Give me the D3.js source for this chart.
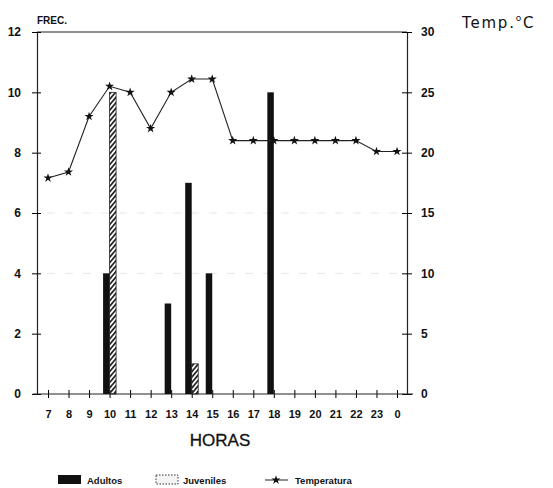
<!DOCTYPE html>
<html>
<head>
<meta charset="utf-8">
<script src="https://cdn.jsdelivr.net/npm/d3@7"></script>
<style>
  body { margin: 0; background: #fff; }
  svg { display: block; font-family: "Liberation Sans", Arial, sans-serif; }
</style>
</head>
<body>
<div id="chart"></div>
<script>
// ---- data ----
const horas = ["7", "8", "9", "10", "11", "12", "13", "14", "15", "16", "17", "18", "19", "20", "21", "22", "23", "0"];
const adultos = [0, 0, 0, 4, 0, 0, 3, 7, 4, 0, 0, 10, 0, 0, 0, 0, 0, 0];
const juveniles = [0, 0, 0, 10, 0, 0, 0, 1, 0, 0, 0, 0, 0, 0, 0, 0, 0, 0];
const temperatura = [17.9, 18.4, 23, 25.5, 25, 22, 25, 26.1, 26.1, 21, 21, 21, 21, 21, 21, 21, 20.1, 20.1];
const frecTicks = [0, 2, 4, 6, 8, 10, 12];
const tempTicks = [0, 5, 10, 15, 20, 25, 30];

const width = 553, height = 488;
const plotLeft = 37, plotRight = 407, plotTop = 32, plotBottom = 394;

const svg = d3.select("#chart").append("svg")
  .attr("width", width).attr("height", height);

// hatch pattern for juveniles
const defs = svg.append("defs");
defs.append("pattern")
  .attr("id", "hatch").attr("patternUnits", "userSpaceOnUse")
  .attr("width", 3.5).attr("height", 3.5)
  .attr("patternTransform", "rotate(40)")
  .append("rect").attr("width", 1.7).attr("height", 3.5).attr("fill", "#222");

// ---- scales ----
const x = d3.scalePoint().domain(horas).range([48, 397]);
const yF = d3.scaleLinear().domain([0, 12]).range([plotBottom, plotTop]);
const yT = d3.scaleLinear().domain([0, 30]).range([plotBottom, plotTop]);
const barW = 6.5;

// faint grid remnants
svg.append("g").selectAll("line").data([4, 6]).join("line")
  .attr("x1", plotLeft + 10).attr("x2", plotRight - 10)
  .attr("y1", d => yF(d)).attr("y2", d => yF(d))
  .attr("stroke", "#e6e6e6").attr("stroke-dasharray", "8,10");

// top border
svg.append("line").attr("x1", plotLeft).attr("x2", plotRight)
  .attr("y1", plotTop).attr("y2", plotTop).attr("stroke", "#222").attr("stroke-width", 1.2);

// ---- axes ----
const gL = svg.append("g").attr("transform", `translate(${plotLeft},0)`)
  .call(d3.axisLeft(yF).tickValues(frecTicks).tickSize(5).tickPadding(11));
gL.selectAll(".tick line").attr("x1", -5).attr("x2", 4);
gL.select(".domain").attr("stroke-width", 1.2).attr("stroke", "#222");
gL.selectAll("text").attr("font-size", 12).attr("font-weight", "bold").attr("fill", "#111");

const gR = svg.append("g").attr("transform", `translate(${plotRight},0)`)
  .call(d3.axisRight(yT).tickValues(tempTicks).tickSize(5).tickPadding(9));
gR.selectAll(".tick line").attr("x1", -5).attr("x2", 5);
gR.select(".domain").attr("stroke-width", 1.2).attr("stroke", "#222");
gR.selectAll("text").attr("font-size", 12).attr("font-weight", "bold").attr("fill", "#111");

const gX = svg.append("g").attr("transform", `translate(0,${plotBottom})`)
  .call(d3.axisBottom(x).tickSize(4).tickPadding(12));
gX.select(".domain").remove();
gX.selectAll(".tick line").attr("y1", -4).attr("y2", 4);
gX.selectAll("text").attr("font-size", 11).attr("font-weight", "bold").attr("fill", "#111");
svg.append("line").attr("x1", 33).attr("x2", 413)
  .attr("y1", plotBottom).attr("y2", plotBottom).attr("stroke", "#222").attr("stroke-width", 1.2);

// ---- bars ----
svg.append("g").selectAll("rect")
  .data(horas.map((h, i) => ({ h, v: adultos[i] })).filter(d => d.v > 0))
  .join("rect")
  .attr("x", d => x(d.h) - barW).attr("width", barW)
  .attr("y", d => yF(d.v)).attr("height", d => plotBottom - yF(d.v))
  .attr("fill", "#111");

svg.append("g").selectAll("rect")
  .data(horas.map((h, i) => ({ h, v: juveniles[i] })).filter(d => d.v > 0))
  .join("rect")
  .attr("x", d => x(d.h)).attr("width", barW)
  .attr("y", d => yF(d.v)).attr("height", d => plotBottom - yF(d.v))
  .attr("fill", "url(#hatch)").attr("stroke", "#222").attr("stroke-width", 0.8);

// ---- temperature line ----
const line = d3.line().x((d, i) => x(horas[i])).y(d => yT(d));
svg.append("path").datum(temperatura)
  .attr("d", line).attr("fill", "none").attr("stroke", "#222").attr("stroke-width", 1.1);
svg.append("g").selectAll("path").data(temperatura).join("path")
  .attr("transform", (d, i) => `translate(${x(horas[i])},${yT(d)})`)
  .attr("d", d3.symbol(d3.symbolStar, 26)).attr("fill", "#111");

// ---- titles ----
svg.append("text").attr("x", 37).attr("y", 24).text("FREC.")
  .attr("font-size", 10).attr("font-weight", "bold").attr("fill", "#111");
const tt = svg.append("text").attr("x", 462).attr("y", 28)
  .attr("font-family", "DejaVu Sans").attr("font-size", 15).attr("letter-spacing", 1.8)
  .attr("fill", "#111");
tt.append("tspan").text("Temp.");
tt.append("tspan").attr("dy", -7).attr("font-size", 9).text("o");
tt.append("tspan").attr("dy", 7).text("C");
svg.append("text").attr("x", 220).attr("y", 446).attr("text-anchor", "middle")
  .attr("font-size", 17).attr("fill", "#111").attr("stroke", "#111").attr("stroke-width", 0.3)
  .text("HORAS");

// ---- legend ----
const lg = svg.append("g").attr("transform", "translate(0,480)");
lg.append("rect").attr("x", 58).attr("y", -5).attr("width", 23).attr("height", 9).attr("fill", "#111");
lg.append("text").attr("x", 87).attr("y", 3.5).text("Adultos");
lg.append("rect").attr("x", 156).attr("y", -5).attr("width", 22).attr("height", 9)
  .attr("fill", "#f4f4f4").attr("stroke", "#333").attr("stroke-dasharray", "1.5,1.5");
lg.append("text").attr("x", 183).attr("y", 3.5).text("Juveniles");
lg.append("line").attr("x1", 265).attr("x2", 288).attr("y1", 0).attr("y2", 0).attr("stroke", "#222");
lg.append("path").attr("transform", "translate(276,0)").attr("d", d3.symbol(d3.symbolStar, 26)).attr("fill", "#111");
lg.append("text").attr("x", 295).attr("y", 3.5).text("Temperatura");
lg.selectAll("text").attr("font-size", 9.5).attr("font-weight", "bold").attr("fill", "#111");
</script>
</body>
</html>
